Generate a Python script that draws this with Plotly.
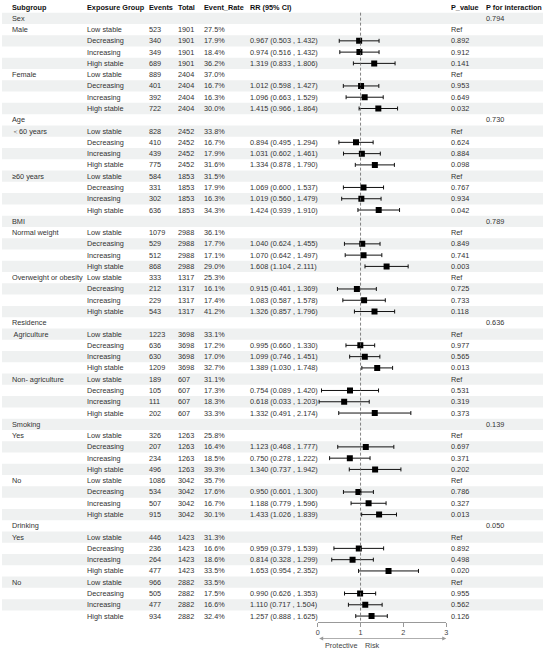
import plotly.graph_objects as go

W, H = 550, 651

groups = ["Sex", "Age", "BMI", "Residence", "Smoking", "Drinking"]
p_interaction = ["0.794", "0.730", "0.789", "0.636", "0.139", "0.050"]
subgroups = ["Male", "Female", "＜60 years", "≥60 years", "Normal weight",
             "Overweight or obesity", " Agriculture", "Non- agriculture",
             "Yes", "No", "Yes", "No"]
exposure = ["Low stable", "Decreasing", "Increasing", "High stable"]
totals = [1901, 2404, 2452, 1853, 2988, 1317, 3698, 607, 1263, 3042, 1423, 2882]

# events per subgroup, in exposure order
events = [523, 340, 349, 689, 889, 401, 392, 722,
          828, 410, 439, 775, 584, 331, 302, 636,
          1079, 529, 512, 868, 333, 212, 229, 543,
          1223, 636, 630, 1209, 189, 105, 111, 202,
          326, 207, 234, 496, 1086, 534, 507, 915,
          446, 236, 264, 477, 966, 505, 477, 934]
event_rate = [27.5, 17.9, 18.4, 36.2, 37.0, 16.7, 16.3, 30.0,
              33.8, 16.7, 17.9, 31.6, 31.5, 17.9, 16.3, 34.3,
              36.1, 17.7, 17.1, 29.0, 25.3, 16.1, 17.4, 41.2,
              33.1, 17.2, 17.0, 32.7, 31.1, 17.3, 18.3, 33.3,
              25.8, 16.4, 18.5, 39.3, 35.7, 17.6, 16.7, 30.1,
              31.3, 16.6, 18.6, 33.5, 33.5, 17.5, 16.6, 32.4]

# RR for Decreasing / Increasing / High stable (Low stable = Ref)
rr = [0.967, 0.974, 1.319, 1.012, 1.096, 1.415,
      0.894, 1.031, 1.334, 1.069, 1.019, 1.424,
      1.040, 1.070, 1.608, 0.915, 1.083, 1.326,
      0.995, 1.099, 1.389, 0.754, 0.618, 1.332,
      1.123, 0.750, 1.340, 0.950, 1.188, 1.433,
      0.959, 0.814, 1.653, 0.990, 1.110, 1.257]
rr_low = [0.503, 0.516, 0.833, 0.598, 0.663, 0.966,
          0.495, 0.602, 0.878, 0.600, 0.560, 0.939,
          0.624, 0.642, 1.104, 0.461, 0.587, 0.857,
          0.660, 0.746, 1.030, 0.089, 0.033, 0.491,
          0.468, 0.278, 0.737, 0.601, 0.779, 1.026,
          0.379, 0.328, 0.954, 0.626, 0.717, 0.888]
rr_high = [1.432, 1.432, 1.806, 1.427, 1.529, 1.864,
           1.294, 1.461, 1.790, 1.537, 1.479, 1.910,
           1.455, 1.497, 2.111, 1.369, 1.578, 1.796,
           1.330, 1.451, 1.748, 1.420, 1.203, 2.174,
           1.777, 1.222, 1.942, 1.300, 1.596, 1.839,
           1.539, 1.299, 2.352, 1.353, 1.504, 1.625]
p_value = ["0.892", "0.912", "0.141", "0.953", "0.649", "0.032",
           "0.624", "0.884", "0.098", "0.767", "0.934", "0.042",
           "0.849", "0.741", "0.003", "0.725", "0.733", "0.118",
           "0.977", "0.565", "0.013", "0.531", "0.319", "0.373",
           "0.697", "0.371", "0.202", "0.786", "0.327", "0.013",
           "0.892", "0.498", "0.020", "0.955", "0.562", "0.126"]

x_ticks = [0, 1, 2, 3]

headers = ["Subgroup", "Exposure Group", "Events", "Total", "Event_Rate",
           "RR (95% CI)", "P_value", "P for interaction"]
col_x = [8.5, 83.3, 145.7, 175.7, 201.7, 248.3, 450, 485.7]

FONT = "Arial, Liberation Sans, sans-serif"
FS = 7.3
annos = []
shapes = []


def txt(col, row, s, bold=False):
    annos.append(dict(x=col_x[col] / W, xref="paper", y=row, yref="y",
                      text=("<b>%s</b>" % s) if bold else s, showarrow=False,
                      xanchor="left", yanchor="middle",
                      font=dict(family=FONT, size=FS,
                                color="#111" if bold else "#333")))


for c, h in enumerate(headers):
    txt(c, 0, h, bold=True)

pts_y, pts_x, err_p, err_m = [], [], [], []
row = 1
k = 0
for g in range(len(groups)):
    txt(0, row, groups[g])
    txt(7, row, p_interaction[g])
    row += 1
    for s in range(2):
        si = g * 2 + s
        txt(0, row, subgroups[si])
        for e in range(4):
            i = si * 4 + e
            txt(1, row, exposure[e])
            txt(2, row, str(events[i]))
            txt(3, row, str(totals[si]))
            txt(4, row, "%.1f%%" % event_rate[i])
            if e == 0:
                txt(6, row, "Ref")
            else:
                txt(5, row, "%.3f (%.3f , %.3f)" % (rr[k], rr_low[k], rr_high[k]))
                txt(6, row, p_value[k])
                pts_x.append(rr[k])
                pts_y.append(row)
                err_p.append(rr_high[k] - rr[k])
                err_m.append(rr[k] - rr_low[k])
                k += 1
            row += 1

n_rows = row - 1

# zebra stripes on odd rows
for r in range(1, n_rows + 1, 2):
    shapes.append(dict(type="rect", xref="paper", yref="y", x0=0, x1=545 / W,
                       y0=r - 0.5, y1=r + 0.5, fillcolor="#eff1f1",
                       line=dict(width=0), layer="below"))

y_bottom = n_rows + 0.5
shapes.append(dict(type="line", xref="x", yref="y", x0=1, x1=1, y0=0.5,
                   y1=y_bottom, line=dict(color="#666", width=0.8, dash="3px,2px")))

fig = go.Figure()
fig.add_trace(go.Scatter(
    x=pts_x, y=pts_y, mode="markers",
    marker=dict(symbol="square", size=6, color="black"),
    error_x=dict(type="data", symmetric=False, array=err_p, arrayminus=err_m,
                 color="#111", thickness=1, width=2),
    showlegend=False, hoverinfo="skip"))

# arrow under the axis
annos.append(dict(x=3, y=1 - 638.5 / H, xref="x", yref="paper", ax=0, ay=0,
                  axref="x", ayref="pixel", text="", showarrow=True,
                  arrowside="end+start", arrowhead=2, arrowsize=1,
                  arrowwidth=0.8, arrowcolor="#999"))
annos.append(dict(x=1, y=1 - 645 / H, xref="x", yref="paper", text="Protective",
                  showarrow=False, xanchor="right", yanchor="middle", xshift=-2,
                  font=dict(family=FONT, size=FS, color="#444")))
annos.append(dict(x=1, y=1 - 645 / H, xref="x", yref="paper", text="Risk",
                  showarrow=False, xanchor="left", yanchor="middle", xshift=2,
                  font=dict(family=FONT, size=FS, color="#444")))

top_row = -7.0 / 11.28
fig.update_layout(
    width=W, height=H, margin=dict(l=0, r=0, t=0, b=0),
    paper_bgcolor="white", plot_bgcolor="rgba(0,0,0,0)",
    xaxis=dict(domain=[318 / W, 447.5 / W], range=[0, 3], tickvals=x_ticks,
               ticks="outside", ticklen=4, tickcolor="#999", showline=True,
               linecolor="#999", linewidth=0.8, showgrid=False, zeroline=False,
               tickfont=dict(family=FONT, size=FS, color="#444")),
    yaxis=dict(domain=[1 - 621.7 / H, 1], range=[y_bottom, top_row],
               visible=False, showgrid=False, zeroline=False),
    annotations=annos, shapes=shapes,
)

# page body has a default margin; drop it so the figure sits at the corner
fig.write_html("out.html", config={"displayModeBar": False},
               post_script="document.body.style.margin='0';")
